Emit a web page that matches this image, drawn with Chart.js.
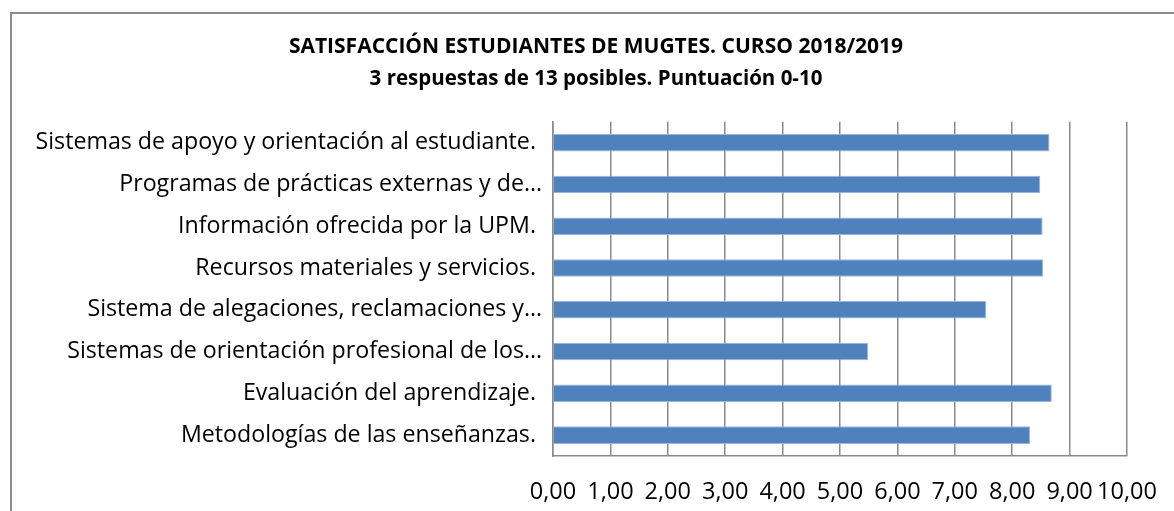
<!DOCTYPE html>
<html>
<head>
<meta charset="utf-8">
<script src="https://cdn.jsdelivr.net/npm/chart.js@4.4.1/dist/chart.umd.min.js"></script>
<style>
  html, body { margin: 0; padding: 0; background: #fff; }
  #wrap { position: relative; width: 1174px; height: 511px; overflow: hidden; }
  #frame { position: absolute; left: 10px; top: 12px; width: 1200px; height: 600px;
           border-top: 2px solid #8c8c8c; border-left: 2px solid #8c8c8c; box-sizing: border-box; }
  canvas { position: absolute; left: 0; top: 0; }
</style>
</head>
<body>
<div id="wrap">
  <div id="frame"></div>
  <canvas id="c" width="1174" height="511"></canvas>
</div>
<script>
const titleText = "SATISFACCIÓN ESTUDIANTES DE MUGTES. CURSO 2018/2019";
const subtitleText = "3 respuestas de 13 posibles. Puntuación 0-10";
const categories = [
  "Sistemas de apoyo y orientación al estudiante. ",
  "Programas de prácticas externas y de…",
  "Información ofrecida por la UPM. ",
  "Recursos materiales y servicios. ",
  "Sistema de alegaciones, reclamaciones y…",
  "Sistemas de orientación profesional de los…",
  "Evaluación del aprendizaje. ",
  "Metodologías de las enseñanzas. "
];
const scores = [8.65, 8.49, 8.53, 8.54, 7.55, 5.49, 8.69, 8.31];
const xTicks = [0, 1, 2, 3, 4, 5, 6, 7, 8, 9, 10];

const FONT = "'Open Sans', Lato, sans-serif";

// let the category labels extend left of the (padded) axis box without clipping
const unclipLabels = {
  id: 'unclipLabels',
  afterLayout(chart) { chart.scales.y.left = 0; }
};

new Chart(document.getElementById('c'), {
  type: 'bar',
  data: {
    labels: categories,
    datasets: [{
      data: scores,
      backgroundColor: '#4F81BD',
      borderColor: '#9BB7DC',
      borderWidth: 1,
      borderSkipped: 'start',
      categoryPercentage: 1.0,
      barPercentage: 0.42
    }]
  },
  plugins: [unclipLabels],
  options: {
    indexAxis: 'y',
    responsive: false,
    animation: false,
    layout: { padding: { left: 65, right: 47, top: 0, bottom: 0 } },
    plugins: {
      legend: { display: false },
      tooltip: { enabled: false },
      title: {
        display: true,
        text: titleText,
        color: '#000',
        font: { family: FONT, size: 21, weight: 'bold', lineHeight: 1.2 },
        padding: { top: 34, bottom: 0 }
      },
      subtitle: {
        display: true,
        text: subtitleText,
        color: '#000',
        font: { family: FONT, size: 20.5, weight: 'bold', lineHeight: 1.2 },
        padding: { top: 8, bottom: 30 }
      }
    },
    scales: {
      x: {
        min: 0, max: 10,
        afterBuildTicks: (s) => { s.ticks = xTicks.map(v => ({ value: v })); },
        afterFit: (s) => { s.height = 55; s.paddingLeft = 0; s.paddingRight = 0; },
        grid: { color: '#8a8a8a', lineWidth: 1.5, drawTicks: false },
        border: { display: true, color: '#8a8a8a', width: 1.5 },
        ticks: {
          color: '#000',
          font: { family: FONT, size: 23.5 },
          padding: 22,
          maxRotation: 0,
          autoSkip: false,
          callback: (v) => Number(v).toFixed(2).replace('.', ',')
        }
      },
      y: {
        afterFit: (s) => { s.width = 553 - 65; },
        grid: { display: false, drawTicks: false },
        border: { display: true, color: '#8a8a8a', width: 1.5 },
        ticks: {
          color: '#000',
          font: { family: FONT, size: 23.2 },
          padding: 11,
          autoSkip: false
        }
      }
    }
  }
});
</script>
</body>
</html>
